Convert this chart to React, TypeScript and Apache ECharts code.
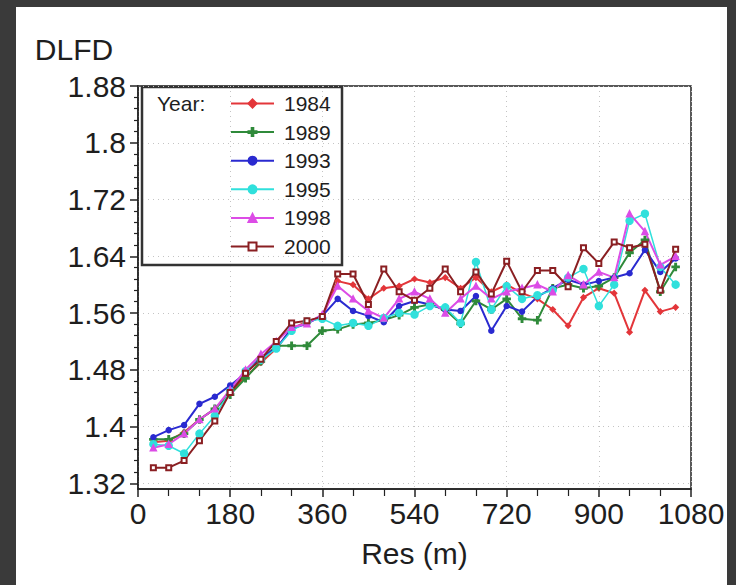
import React, { useEffect, useRef } from "react";
import * as echarts from "echarts";

// Resolution (m)
const resolutions = [
  30, 60, 90, 120, 150, 180, 210, 240, 270, 300, 330, 360, 390, 420, 450, 480, 510, 540,
  570, 600, 630, 660, 690, 720, 750, 780, 810, 840, 870, 900, 930, 960, 990, 1020, 1050,
];

const years = ["1984", "1989", "1993", "1995", "1998", "2000"];

const dlfd1984 = [
  1.378, 1.38, 1.392, 1.41, 1.425, 1.448, 1.47, 1.49, 1.51, 1.538, 1.548, 1.555, 1.605, 1.6,
  1.58, 1.595, 1.598, 1.608, 1.603, 1.61, 1.595, 1.61, 1.59, 1.6, 1.588, 1.58, 1.565, 1.542,
  1.582, 1.595, 1.588, 1.533, 1.592, 1.562, 1.568,
];
const dlfd1989 = [
  1.382, 1.382, 1.39, 1.41, 1.425, 1.445, 1.468, 1.492, 1.514, 1.514, 1.514, 1.535, 1.537,
  1.544, 1.546, 1.55, 1.557, 1.568, 1.572, 1.565, 1.545, 1.577, 1.565, 1.58, 1.552, 1.55,
  1.595, 1.6, 1.595, 1.598, 1.61, 1.645, 1.663, 1.59, 1.625,
];
const dlfd1993 = [
  1.385, 1.395, 1.402, 1.432, 1.442, 1.458, 1.475, 1.498, 1.51, 1.538, 1.545, 1.556, 1.58,
  1.563, 1.556, 1.547, 1.57, 1.577, 1.572, 1.565, 1.563, 1.584, 1.535, 1.57, 1.562, 1.583,
  1.595, 1.607, 1.6, 1.605, 1.61, 1.616, 1.649, 1.618, 1.637,
];
const dlfd1995 = [
  1.375, 1.373, 1.362, 1.39, 1.415, 1.45, 1.478, 1.494, 1.51, 1.535, 1.548, 1.552, 1.542,
  1.546, 1.542, 1.553, 1.56, 1.558, 1.57, 1.568, 1.546, 1.632, 1.565, 1.598, 1.58, 1.585,
  1.592, 1.61, 1.622, 1.57, 1.6, 1.69, 1.7, 1.625, 1.6,
];
const dlfd1998 = [
  1.37, 1.375, 1.39, 1.41, 1.425, 1.452, 1.48, 1.502, 1.52, 1.54, 1.545, 1.558, 1.598, 1.58,
  1.563, 1.553, 1.58, 1.59, 1.58, 1.56, 1.58, 1.598, 1.58, 1.59, 1.595, 1.6, 1.59, 1.613,
  1.6, 1.618, 1.61, 1.7, 1.675, 1.628, 1.64,
];
const dlfd2000 = [
  1.342, 1.342, 1.352, 1.38, 1.408, 1.448, 1.475, 1.495, 1.52, 1.546, 1.549, 1.555, 1.615,
  1.615, 1.572, 1.622, 1.59, 1.578, 1.595, 1.622, 1.59, 1.618, 1.587, 1.633, 1.59, 1.62,
  1.62, 1.597, 1.652, 1.63, 1.66, 1.652, 1.657, 1.592, 1.65,
];

const yTickValues = [1.32, 1.4, 1.48, 1.56, 1.64, 1.72, 1.8, 1.88];
const yMinorTickValues = yTickValues
  .slice(0, -1)
  .flatMap((v) => [1, 2, 3, 4].map((k) => +(v + k * 0.016).toFixed(3)));

const seriesValues = [dlfd1984, dlfd1989, dlfd1993, dlfd1995, dlfd1998, dlfd2000];

const seriesStyles = [
  { color: "#e3363a", symbol: "diamond", size: 5, width: 2 },
  { color: "#2f8a3a", symbol: "path://M4,0H6V4H10V6H6V10H4V6H0V4H4Z", size: 7, width: 2 },
  { color: "#2a2ad0", symbol: "circle", size: 5, width: 2 },
  { color: "#30e0dc", symbol: "circle", size: 7, width: 1.5 },
  { color: "#dc4ce6", symbol: "triangle", size: 6, width: 2 },
  { color: "#8a1f22", symbol: "emptyRect", size: 5, width: 2 },
];

const FONT = "'Liberation Sans', Arial, sans-serif";
const TEXT = "#1e1e1e";

export default function App() {
  const ref = useRef<HTMLDivElement>(null);

  useEffect(() => {
    if (!ref.current) return;
    const chart = echarts.init(ref.current, undefined, { renderer: "svg" });

    const series = years.map((y, i) => ({
      name: y,
      type: "line",
      xAxisIndex: 0,
      yAxisIndex: 0,
      data: resolutions.map((r, j) => [r, seriesValues[i][j]]),
      symbol: seriesStyles[i].symbol,
      symbolSize: seriesStyles[i].size,
      showSymbol: true,
      lineStyle: { color: seriesStyles[i].color, width: seriesStyles[i].width },
      itemStyle: { color: seriesStyles[i].color, borderColor: seriesStyles[i].color, borderWidth: 1.5 },
      emphasis: { disabled: true },
    }));

    const axisLineStyle = { color: "#222", width: 1.5 };
    const splitStyle = { color: "#c4c4c4", width: 1, type: [1, 4] };

    chart.setOption({
      animation: false,
      textStyle: { fontFamily: FONT },
      grid: {
        left: 138,
        top: 86,
        right: 45,
        bottom: 96,
        show: true,
        borderColor: "#222",
        borderWidth: 1.5,
        backgroundColor: "transparent",
      },
      graphic: [
        {
          type: "rect",
          shape: { x: 142, y: 87, width: 200, height: 178 },
          style: { fill: "none", stroke: "#333", lineWidth: 2.5 },
          silent: true,
        },
        {
          type: "text",
          x: 157,
          y: 103,
          style: {
            text: "Year:",
            fontSize: 21,
            fontFamily: FONT,
            fill: TEXT,
            verticalAlign: "middle",
          },
          silent: true,
        },
      ],
      legend: {
        orient: "vertical",
        left: 230,
        top: 93,
        itemWidth: 43,
        itemHeight: 10,
        itemGap: 7.6,
        padding: 0,
        data: years,
        textStyle: {
          fontSize: 21,
          color: TEXT,
          fontFamily: FONT,
          lineHeight: 20,
          padding: [0, 0, 0, 5],
        },
      },
      xAxis: {
        type: "value",
        min: 0,
        max: 1080,
        interval: 180,
        axisLine: { show: true, lineStyle: axisLineStyle },
        axisTick: { show: true, length: 8, lineStyle: axisLineStyle },
        minorTick: { show: true, splitNumber: 3, length: 7, lineStyle: { color: "#222", width: 1.2 } },
        axisLabel: {
          fontSize: 30,
          color: TEXT,
          margin: 9,
          fontFamily: FONT,
          formatter: (v: number) => String(Math.round(+v)),
        },
        splitLine: { show: true, lineStyle: splitStyle },
        name: "Res (m)",
        nameLocation: "middle",
        nameGap: 49,
        nameTextStyle: { fontSize: 30, color: TEXT, fontFamily: FONT },
      },
      yAxis: [
        {
          type: "value",
          min: 1.312,
          max: 1.88,
          axisLine: { show: true, lineStyle: axisLineStyle },
          axisTick: { show: true, length: 8, customValues: yTickValues, lineStyle: axisLineStyle },
          axisLabel: {
            customValues: yTickValues,
            fontSize: 30,
            color: TEXT,
            margin: 12,
            fontFamily: FONT,
            formatter: (v: number) => String(+(+v).toFixed(2)),
          },
          splitLine: { show: true, lineStyle: splitStyle },
          name: "DLFD",
          nameLocation: "end",
          nameGap: 22,
          nameTextStyle: { fontSize: 30, color: TEXT, fontFamily: FONT, padding: [0, 128, 0, 0] },
        },
        {
          type: "value",
          min: 1.312,
          max: 1.88,
          position: "left",
          offset: 0,
          axisLine: { show: false },
          axisTick: {
            show: true,
            length: 4,
            customValues: yMinorTickValues,
            lineStyle: { color: "#222", width: 1.2 },
          },
          axisLabel: { show: false },
          splitLine: { show: false },
        },
      ],
      series,
    });

    return () => chart.dispose();
  }, []);

  return (
    <div
      style={{
        position: "fixed",
        left: 0,
        top: 0,
        width: 736,
        height: 585,
        background: "#3a3a3a",
        overflow: "hidden",
      }}
    >
      <div
        style={{
          position: "absolute",
          left: 16,
          top: 7,
          width: 711,
          height: 578,
          background: "#ffffff",
        }}
      />
      <div ref={ref} style={{ position: "absolute", left: 0, top: 0, width: 736, height: 585 }} />
    </div>
  );
}
